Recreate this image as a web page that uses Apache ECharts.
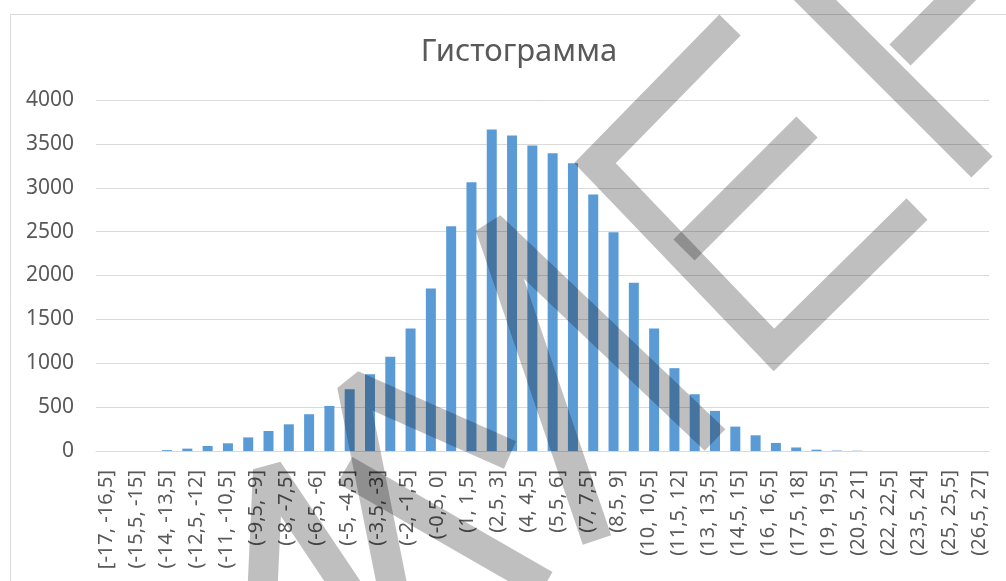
<!DOCTYPE html>
<html>
<head>
<meta charset="utf-8">
<title>Гистограмма</title>
<script src="https://cdn.jsdelivr.net/npm/echarts@6/dist/echarts.min.js"></script>
<style>
  html, body { margin: 0; padding: 0; background: #fff; }
  #chart { width: 1006px; height: 581px; }
</style>
</head>
<body>
<div id="chart"></div>
<script>
// bars (one per bin, names are hidden on the chart)
var barBins = ['-17', '-16', '-15', '-14', '-13', '-12', '-11', '-10', '-9', '-8', '-7',
  '-6', '-5', '-4', '-3', '-2', '-1', '0', '1', '2', '3', '4', '5', '6', '7', '8', '9',
  '10', '11', '12', '13', '14', '15', '16', '17', '18', '19', '20', '21', '22', '23',
  '24', '25', '26']
var counts = [0, 0, 0, 10, 27, 57, 88, 155, 228, 304, 419, 514, 704, 875, 1073, 1397,
  1853, 2561, 3063, 3664, 3596, 3482, 3394, 3280, 2922, 2492, 1916, 1397, 944, 647,
  457, 278, 179, 92, 40, 15, 5, 3, 0, 0, 0, 0, 0, 0]

// labels as printed under the axis
var binLabels = ['[-17, -16,5]', '(-15,5, -15]', '(-14, -13,5]', '(-12,5, -12]',
  '(-11, -10,5]', '(-9,5, -9]', '(-8, -7,5]', '(-6,5, -6]', '(-5, -4,5]', '(-3,5, -3]',
  '(-2, -1,5]', '(-0,5, 0]', '(1, 1,5]', '(2,5, 3]', '(4, 4,5]', '(5,5, 6]', '(7, 7,5]',
  '(8,5, 9]', '(10, 10,5]', '(11,5, 12]', '(13, 13,5]', '(14,5, 15]', '(16, 16,5]',
  '(17,5, 18]', '(19, 19,5]', '(20,5, 21]', '(22, 22,5]', '(23,5, 24]', '(25, 25,5]',
  '(26,5, 27]']

var yMax = 4000
var yStep = 500

var FONT = '"Noto Sans", sans-serif'
var TEXT = '#595959'
var LINE = '#d9d9d9'
var MARK = 'rgba(0,0,0,0.25)'

// watermark strokes
function stroke(points, join) {
  return {
    type: 'polyline',
    z: 100,
    silent: true,
    shape: { points: points },
    style: { stroke: MARK, lineWidth: 30, fill: null, lineJoin: join || 'bevel', lineCap: 'butt' }
  }
}

var chart = echarts.init(document.getElementById('chart'))

chart.setOption({
  animation: false,
  backgroundColor: '#fff',
  title: {
    text: 'Гистограмма',
    left: 514,
    top: 32,
    textAlign: 'center',
    textStyle: { fontFamily: FONT, fontSize: 31, fontWeight: 'normal', color: TEXT }
  },
  grid: [
    { left: 96, right: 17, top: 100, height: 351 },
    { left: 106, right: 27, top: 100, height: 351 }
  ],
  xAxis: [
    {
      type: 'category',
      gridIndex: 0,
      data: barBins,
      axisLine: { lineStyle: { color: LINE } },
      axisTick: { show: false },
      axisLabel: { show: false }
    },
    {
      type: 'category',
      gridIndex: 1,
      data: binLabels,
      boundaryGap: false,
      axisLine: { show: false },
      axisTick: { show: false },
      splitLine: { show: false },
      axisLabel: {
        interval: 0,
        rotate: 90,
        margin: 19,
        fontFamily: FONT,
        fontSize: 20,
        color: TEXT
      }
    }
  ],
  yAxis: [
    {
      type: 'value',
      gridIndex: 0,
      min: 0,
      max: yMax,
      interval: yStep,
      axisLine: { show: false },
      axisTick: { show: false },
      splitLine: { lineStyle: { color: LINE } },
      axisLabel: {
        margin: 22,
        fontFamily: FONT,
        fontSize: 21,
        color: TEXT,
        formatter: function (v) { return String(v) }
      }
    },
    { type: 'value', gridIndex: 1, show: false, min: 0, max: yMax }
  ],
  series: [{
    type: 'bar',
    xAxisIndex: 0,
    yAxisIndex: 0,
    data: counts,
    barWidth: 10,
    itemStyle: { color: '#5b9bd5' }
  }],
  graphic: [
    {
      type: 'rect',
      silent: true,
      shape: { x: 10.5, y: 14.5, width: 1010, height: 600 },
      style: { stroke: LINE, fill: null, lineWidth: 1 }
    },
    // E
    stroke([[730, 25], [595, 163], [774, 350], [917, 209]], 'miter'),
    stroke([[807, 127], [684, 250]]),
    // X
    stroke([[800, -15], [982, 167]]),
    stroke([[900, 55], [995, -40]]),
    // middle letter
    stroke([[597, 540], [490, 226], [715, 440]]),
    // lower letter
    stroke([[395, 600], [352, 385], [510, 455]]),
    stroke([[345, 470], [545, 585]]),
    // left letter
    stroke([[262, 600], [268, 470], [355, 600]])
  ]
})
</script>
</body>
</html>
